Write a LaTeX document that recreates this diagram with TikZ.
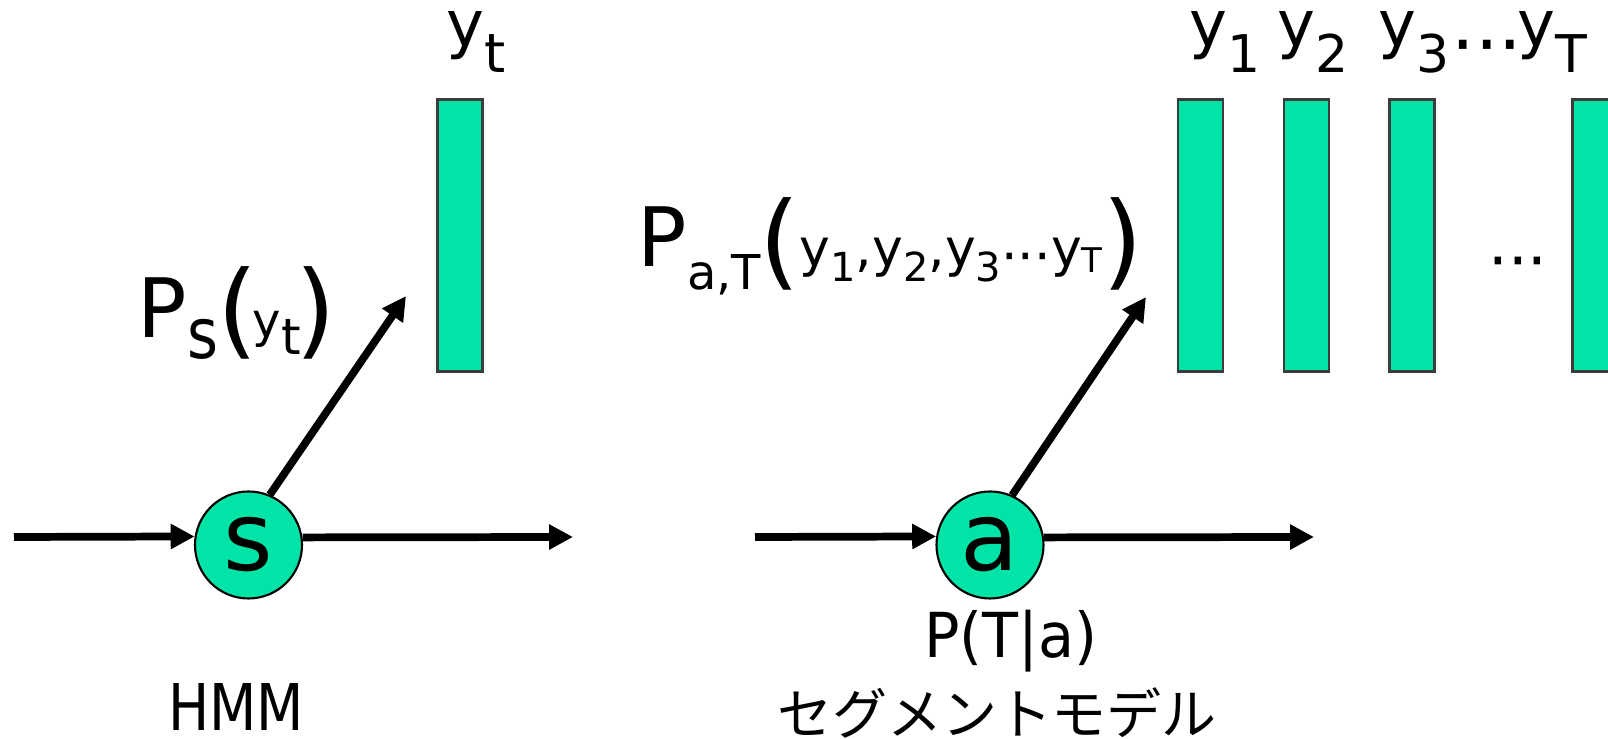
\documentclass[tikz,border=0pt]{standalone}
\usepackage{fontspec}
\setmainfont{DejaVu Sans}
\newfontfamily\narrowA{DejaVu Sans}[FakeStretch=0.85]
\newfontfamily\narrowB{DejaVu Sans}[FakeStretch=0.95]
\newfontfamily\narrowC{DejaVu Sans}[FakeStretch=0.85]
\newfontfamily\jpfont{Noto Sans CJK JP}
\usetikzlibrary{arrows.meta}
\newlength\px \setlength\px{0.28453pt}
\newcommand\fs[1]{\fontsize{#1\px}{#1\px}\selectfont}
\newcommand\lw[2]{\raisebox{-#1\px}{#2}}
\definecolor{tealfill}{RGB}{0,228,168}
\definecolor{barline}{RGB}{60,60,60}
\begin{document}
\begin{tikzpicture}[x=0.1mm,y=-0.1mm,
  arr/.style={line width=2.2pt,-{Triangle[length=6.8pt,width=6.8pt]}},
  state/.style={circle,draw=black,line width=0.6pt,fill=tealfill,minimum size=10.7mm,inner sep=0pt,font=\fs{95}},
  obsbar/.style={rectangle,draw=barline,line width=0.6pt,fill=tealfill,minimum width=4.5mm,minimum height=27.2mm,inner sep=0pt},
  lbl/.style={inner sep=0pt,anchor=base west}]
\useasboundingbox (0,0) rectangle (1608,739);
\clip (0,0) rectangle (1608,739);

% ---------- HMM ----------
\node[obsbar] (bar0) at (460,235.5) {};
\node[lbl] (ytop) at (446,47) {\fs{64}y\lw{26}{\fs{54}t}};
\node[lbl] (ps) at (137,338) {\fs{82}P\lw{21}{\narrowC\fs{70}s}\kern-1\px\lw{8}{\fs{104}(}\kern-5\px\fs{48}y\lw{17}{\fs{50}t}\kern-5\px\lw{8}{\fs{104})}};
\node[state] (s) at (248.5,545) {s};
\coordinate (in1) at (14,537);
\coordinate (out1) at (573,537);
\coordinate (e1) at (406,296);
\draw[arr] (in1) -- (s.171.4);
\draw[arr] (s.8.6) -- (out1);
\draw[arr] (s.67.6) -- (e1);
\node[inner sep=0pt,anchor=base] (hmm) at (236,731) {\narrowA\fs{64.5}HMM};

% ---------- Segment model ----------
\node[obsbar] (bar1) at (1200.5,235.5) {};
\node[obsbar] (bar2) at (1306.5,235.5) {};
\node[obsbar] (bar3) at (1412,235.5) {};
\node[obsbar] (bar4) at (1595,235.5) {};
\node[inner sep=0pt] (hdots) at (1518,270) {\fs{62}···};
\node[lbl] (ytops) at (1189,47) {\fs{64}%
  \makebox[88\px][l]{y\lw{26}{\fs{52}1}}%
  \makebox[101\px][l]{y\lw{26}{\fs{52}2}}%
  \makebox[73\px][l]{y\lw{26}{\fs{52}3}}%
  \makebox[66\px][l]{\lw{24}{\fs{74}···}}%
  y\lw{26}{\fs{52}T}};
\node[lbl] (pat) at (637,267) {\fs{82}P\lw{23}{\fs{48}a,T}\kern-2\px\lw{10}{\fs{104}(}{\fs{52}y\lw{15}{\fs{40}1},y\lw{15}{\fs{40}2},y\lw{15}{\fs{40}3}\lw{8}{\fs{52}···}y\lw{6}{\fs{34}T}}\lw{10}{\fs{104})}};
\node[state] (a) at (990,545) {a};
\coordinate (in2) at (755,537);
\coordinate (out2) at (1314,537);
\coordinate (e2) at (1146,297);
\draw[arr] (in2) -- (a.171.4);
\draw[arr] (a.8.6) -- (out2);
\draw[arr] (a.66.5) -- (e2);
\node[inner sep=0pt,anchor=base] (pta) at (1011,658) {\narrowB\fs{62}P(T|a)};
\node[inner sep=0pt,anchor=base] (seg) at (997,735) {\jpfont\fs{55}セグメントモデル};
\end{tikzpicture}
\end{document}
